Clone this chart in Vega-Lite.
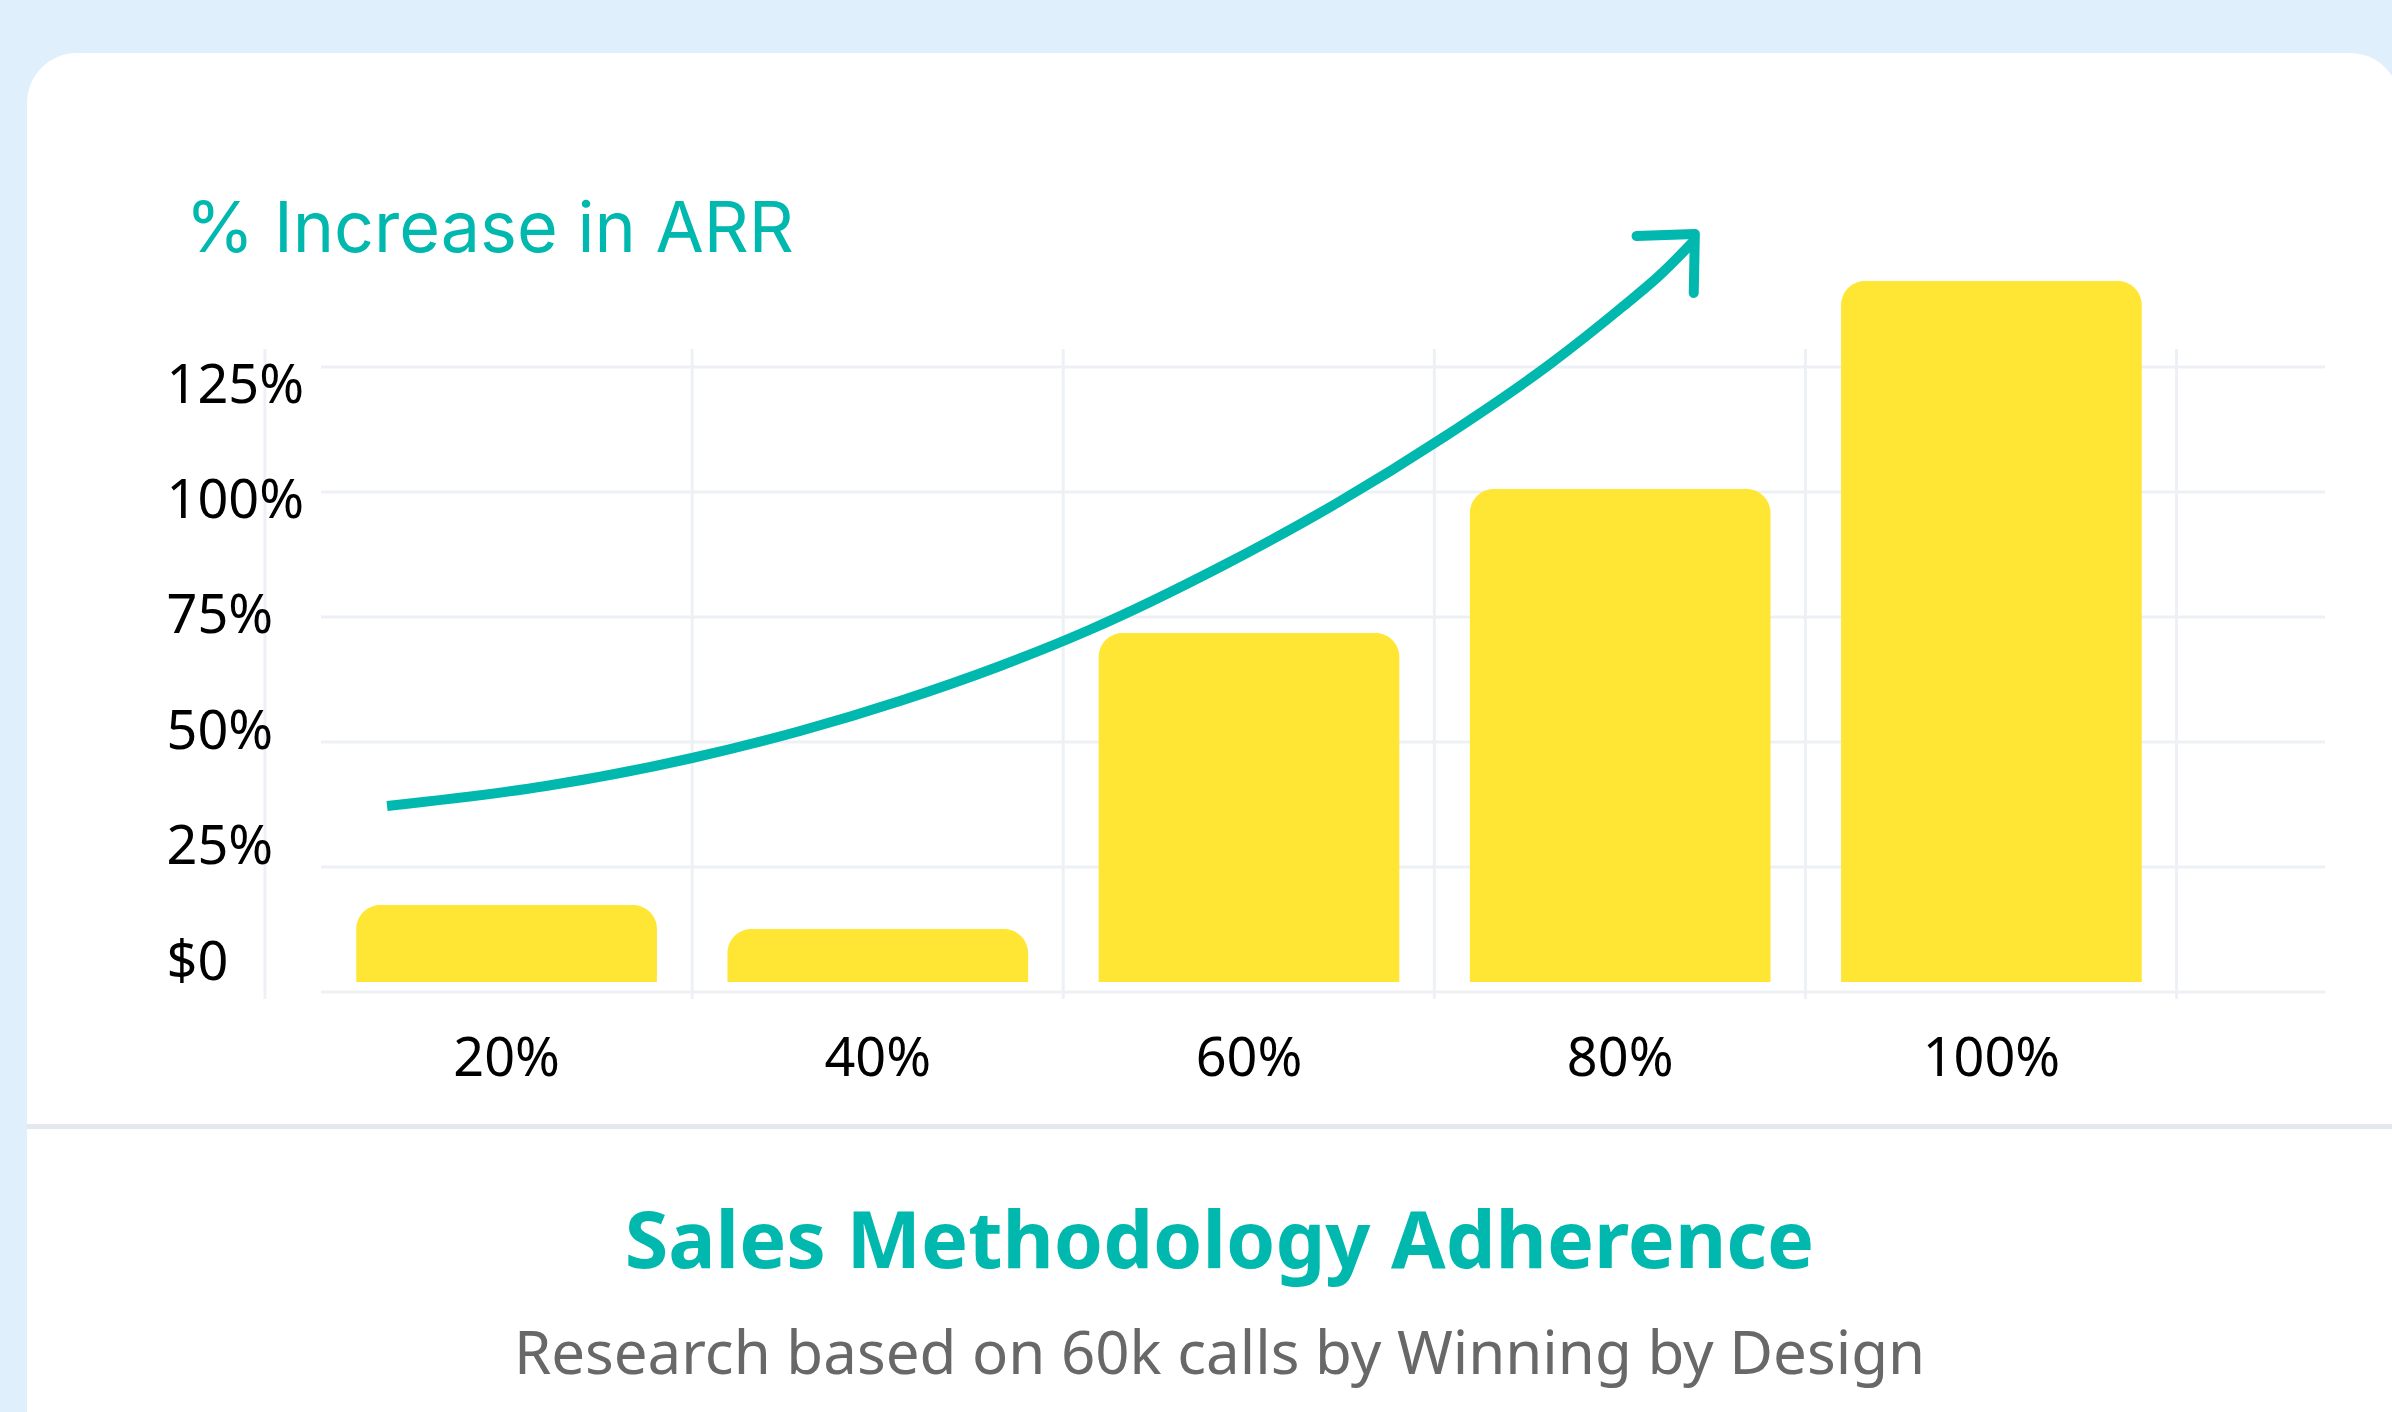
{
  "$schema": "https://vega.github.io/schema/vega-lite/v6.json",
  "width": 2373,
  "height": 1419,
  "autosize": {"type": "none"},
  "padding": {"left": 27, "top": 53, "right": -8, "bottom": -60},
  "background": "#DFF0FC",
  "config": {"view": {"fill": "white", "cornerRadius": 50, "stroke": null}},
  "datasets": {
    "bars": [
      {"adherence": "20%", "arr": 17.4},
      {"adherence": "40%", "arr": 12.6},
      {"adherence": "60%", "arr": 71.8},
      {"adherence": "80%", "arr": 100.6},
      {"adherence": "100%", "arr": 142.2}
    ],
    "hgrid": [{"tick": 0}, {"tick": 25}, {"tick": 50}, {"tick": 75}, {"tick": 100}, {"tick": 125}],
    "vgrid": [{"edge": 0.349}, {"edge": 1.5}, {"edge": 2.5}, {"edge": 3.5}, {"edge": 4.5}, {"edge": 5.5}],
    "curve": [
      {"x": 0.678, "y": 37.2},
      {"x": 1.106, "y": 41.2},
      {"x": 1.5, "y": 46.8},
      {"x": 1.791, "y": 52.2},
      {"x": 2.06, "y": 58.2},
      {"x": 2.33, "y": 65.2},
      {"x": 2.57, "y": 72.4},
      {"x": 2.928, "y": 85.2},
      {"x": 3.238, "y": 97.8},
      {"x": 3.526, "y": 111.0},
      {"x": 3.812, "y": 125.6},
      {"x": 4.003, "y": 136.8},
      {"x": 4.108, "y": 143.4},
      {"x": 4.202, "y": 150.4}
    ],
    "head": [
      {"x": 4.045, "y": 151.2, "o": 1},
      {"x": 4.202, "y": 151.6, "o": 2},
      {"x": 4.199, "y": 139.8, "o": 3}
    ]
  },
  "title": {
    "text": "Sales Methodology Adherence",
    "subtitle": "Research based on 60k calls by Winning by Design",
    "orient": "bottom",
    "anchor": "middle",
    "frame": "group",
    "offset": -266,
    "dx": 6,
    "baseline": "top",
    "font": "Noto Sans",
    "fontSize": 79,
    "fontWeight": "bold",
    "color": "#00B8AD",
    "subtitleFont": "Noto Sans",
    "subtitleFontSize": 60,
    "subtitleFontWeight": "normal",
    "subtitleColor": "#686868",
    "subtitlePadding": 42
  },
  "resolve": {"scale": {"x": "independent"}},
  "layer": [
    {
      "data": {"name": "hgrid"},
      "mark": {"type": "rule", "color": "#EDF1F5", "strokeWidth": 3},
      "encoding": {
        "y": {"field": "tick", "type": "quantitative", "scale": {"domain": [-1.4, 128.6], "range": [946, 296], "nice": false, "zero": false},
          "axis": {
            "orient": "left", "offset": -238, "zindex": 1,
            "values": [0, 25, 50, 75, 100, 125],
            "labelExpr": "datum.value == 0 ? '$0' : datum.value + '%'",
            "grid": false, "ticks": false, "tickSize": 0, "domain": false,
            "labelAlign": "left", "labelBaseline": "alphabetic", "labelPadding": 99,
            "labelOffset": {"expr": "-13 + 0.384 * datum.value"},
            "labelFont": "Noto Sans", "labelFontSize": 54, "labelColor": "#000000",
            "labelOverlap": false,
            "title": "% Increase in ARR",
            "titleAngle": 0, "titleAlign": "left", "titleBaseline": "alphabetic",
            "titleX": -80, "titleY": 198,
            "titleFont": "Inter", "titleFontSize": 70, "titleFontWeight": "normal", "titleColor": "#00B8AD"
          }},
        "x": {"datum": 0.5, "type": "quantitative", "scale": {"domain": [0.5, 5.9], "range": [294, 2298], "nice": false, "zero": false}, "axis": null},
        "x2": {"datum": 5.9}
      }
    },
    {
      "data": {"name": "vgrid"},
      "mark": {"type": "rule", "color": "#EDF1F5", "strokeWidth": 3},
      "encoding": {
        "x": {"field": "edge", "type": "quantitative", "scale": {"domain": [0.5, 5.9], "range": [294, 2298], "nice": false, "zero": false}, "axis": null},
        "y": {"datum": -1.4, "type": "quantitative", "scale": {"domain": [-1.4, 128.6], "range": [946, 296], "nice": false, "zero": false},
          "axis": {
            "orient": "left", "offset": -238, "zindex": 1,
            "values": [0, 25, 50, 75, 100, 125],
            "labelExpr": "datum.value == 0 ? '$0' : datum.value + '%'",
            "grid": false, "ticks": false, "tickSize": 0, "domain": false,
            "labelAlign": "left", "labelBaseline": "alphabetic", "labelPadding": 99,
            "labelOffset": {"expr": "-13 + 0.384 * datum.value"},
            "labelFont": "Noto Sans", "labelFontSize": 54, "labelColor": "#000000",
            "labelOverlap": false,
            "title": "% Increase in ARR",
            "titleAngle": 0, "titleAlign": "left", "titleBaseline": "alphabetic",
            "titleX": -80, "titleY": 198,
            "titleFont": "Inter", "titleFontSize": 70, "titleFontWeight": "normal", "titleColor": "#00B8AD"
          }},
        "y2": {"datum": 128.6}
      }
    },
    {
      "data": {"name": "bars"},
      "mark": {"type": "bar", "color": "#FFE635", "cornerRadiusTopLeft": 24, "cornerRadiusTopRight": 24},
      "encoding": {
        "x": {
          "field": "adherence", "type": "ordinal", "sort": null,
          "scale": {"range": [294, 2150], "paddingInner": 0.19, "paddingOuter": 0.095},
          "axis": {
            "orient": "bottom", "offset": -480, "title": null,
            "domain": false, "ticks": false, "tickSize": 0, "grid": false,
            "labelAngle": 0, "labelFont": "Noto Sans", "labelFontSize": 54, "labelColor": "#000000",
            "labelBaseline": "alphabetic", "labelPadding": 83
          }
        },
        "y": {
          "field": "arr", "type": "quantitative",
          "scale": {"domain": [-1.4, 128.6], "range": [946, 296], "nice": false, "zero": false},
          "axis": {
            "orient": "left", "offset": -238, "zindex": 1,
            "values": [0, 25, 50, 75, 100, 125],
            "labelExpr": "datum.value == 0 ? '$0' : datum.value + '%'",
            "grid": false, "ticks": false, "tickSize": 0, "domain": false,
            "labelAlign": "left", "labelBaseline": "alphabetic", "labelPadding": 99,
            "labelOffset": {"expr": "-13 + 0.384 * datum.value"},
            "labelFont": "Noto Sans", "labelFontSize": 54, "labelColor": "#000000",
            "labelOverlap": false,
            "title": "% Increase in ARR",
            "titleAngle": 0, "titleAlign": "left", "titleBaseline": "alphabetic",
            "titleX": -80, "titleY": 198,
            "titleFont": "Inter", "titleFontSize": 70, "titleFontWeight": "normal", "titleColor": "#00B8AD"
          }
        },
        "y2": {"datum": 2}
      }
    },
    {
      "data": {"name": "curve"},
      "mark": {"type": "line", "color": "#00B8AD", "strokeWidth": 10, "interpolate": "monotone", "strokeCap": "butt"},
      "encoding": {
        "x": {"field": "x", "type": "quantitative", "scale": {"domain": [0.5, 5.9], "range": [294, 2298], "nice": false, "zero": false}, "axis": null},
        "y": {"field": "y", "type": "quantitative", "scale": {"domain": [-1.4, 128.6], "range": [946, 296], "nice": false, "zero": false},
          "axis": {
            "orient": "left", "offset": -238, "zindex": 1,
            "values": [0, 25, 50, 75, 100, 125],
            "labelExpr": "datum.value == 0 ? '$0' : datum.value + '%'",
            "grid": false, "ticks": false, "tickSize": 0, "domain": false,
            "labelAlign": "left", "labelBaseline": "alphabetic", "labelPadding": 99,
            "labelOffset": {"expr": "-13 + 0.384 * datum.value"},
            "labelFont": "Noto Sans", "labelFontSize": 54, "labelColor": "#000000",
            "labelOverlap": false,
            "title": "% Increase in ARR",
            "titleAngle": 0, "titleAlign": "left", "titleBaseline": "alphabetic",
            "titleX": -80, "titleY": 198,
            "titleFont": "Inter", "titleFontSize": 70, "titleFontWeight": "normal", "titleColor": "#00B8AD"
          }}
      }
    },
    {
      "data": {"name": "head"},
      "mark": {"type": "line", "color": "#00B8AD", "strokeWidth": 10, "strokeCap": "round", "strokeJoin": "round"},
      "encoding": {
        "x": {"field": "x", "type": "quantitative", "scale": {"domain": [0.5, 5.9], "range": [294, 2298], "nice": false, "zero": false}, "axis": null},
        "y": {"field": "y", "type": "quantitative", "scale": {"domain": [-1.4, 128.6], "range": [946, 296], "nice": false, "zero": false},
          "axis": {
            "orient": "left", "offset": -238, "zindex": 1,
            "values": [0, 25, 50, 75, 100, 125],
            "labelExpr": "datum.value == 0 ? '$0' : datum.value + '%'",
            "grid": false, "ticks": false, "tickSize": 0, "domain": false,
            "labelAlign": "left", "labelBaseline": "alphabetic", "labelPadding": 99,
            "labelOffset": {"expr": "-13 + 0.384 * datum.value"},
            "labelFont": "Noto Sans", "labelFontSize": 54, "labelColor": "#000000",
            "labelOverlap": false,
            "title": "% Increase in ARR",
            "titleAngle": 0, "titleAlign": "left", "titleBaseline": "alphabetic",
            "titleX": -80, "titleY": 198,
            "titleFont": "Inter", "titleFontSize": 70, "titleFontWeight": "normal", "titleColor": "#00B8AD"
          }},
        "order": {"field": "o", "type": "quantitative"}
      }
    },
    {
      "data": {"values": [{"line": "separator"}]},
      "mark": {"type": "rule", "color": "#E2E8EE", "strokeWidth": 5},
      "encoding": {
        "x": {"value": 0},
        "x2": {"value": "width"},
        "y": {"datum": -26.9, "type": "quantitative", "scale": {"domain": [-1.4, 128.6], "range": [946, 296], "nice": false, "zero": false},
          "axis": {
            "orient": "left", "offset": -238, "zindex": 1,
            "values": [0, 25, 50, 75, 100, 125],
            "labelExpr": "datum.value == 0 ? '$0' : datum.value + '%'",
            "grid": false, "ticks": false, "tickSize": 0, "domain": false,
            "labelAlign": "left", "labelBaseline": "alphabetic", "labelPadding": 99,
            "labelOffset": {"expr": "-13 + 0.384 * datum.value"},
            "labelFont": "Noto Sans", "labelFontSize": 54, "labelColor": "#000000",
            "labelOverlap": false,
            "title": "% Increase in ARR",
            "titleAngle": 0, "titleAlign": "left", "titleBaseline": "alphabetic",
            "titleX": -80, "titleY": 198,
            "titleFont": "Inter", "titleFontSize": 70, "titleFontWeight": "normal", "titleColor": "#00B8AD"
          }}
      }
    }
  ]
}
